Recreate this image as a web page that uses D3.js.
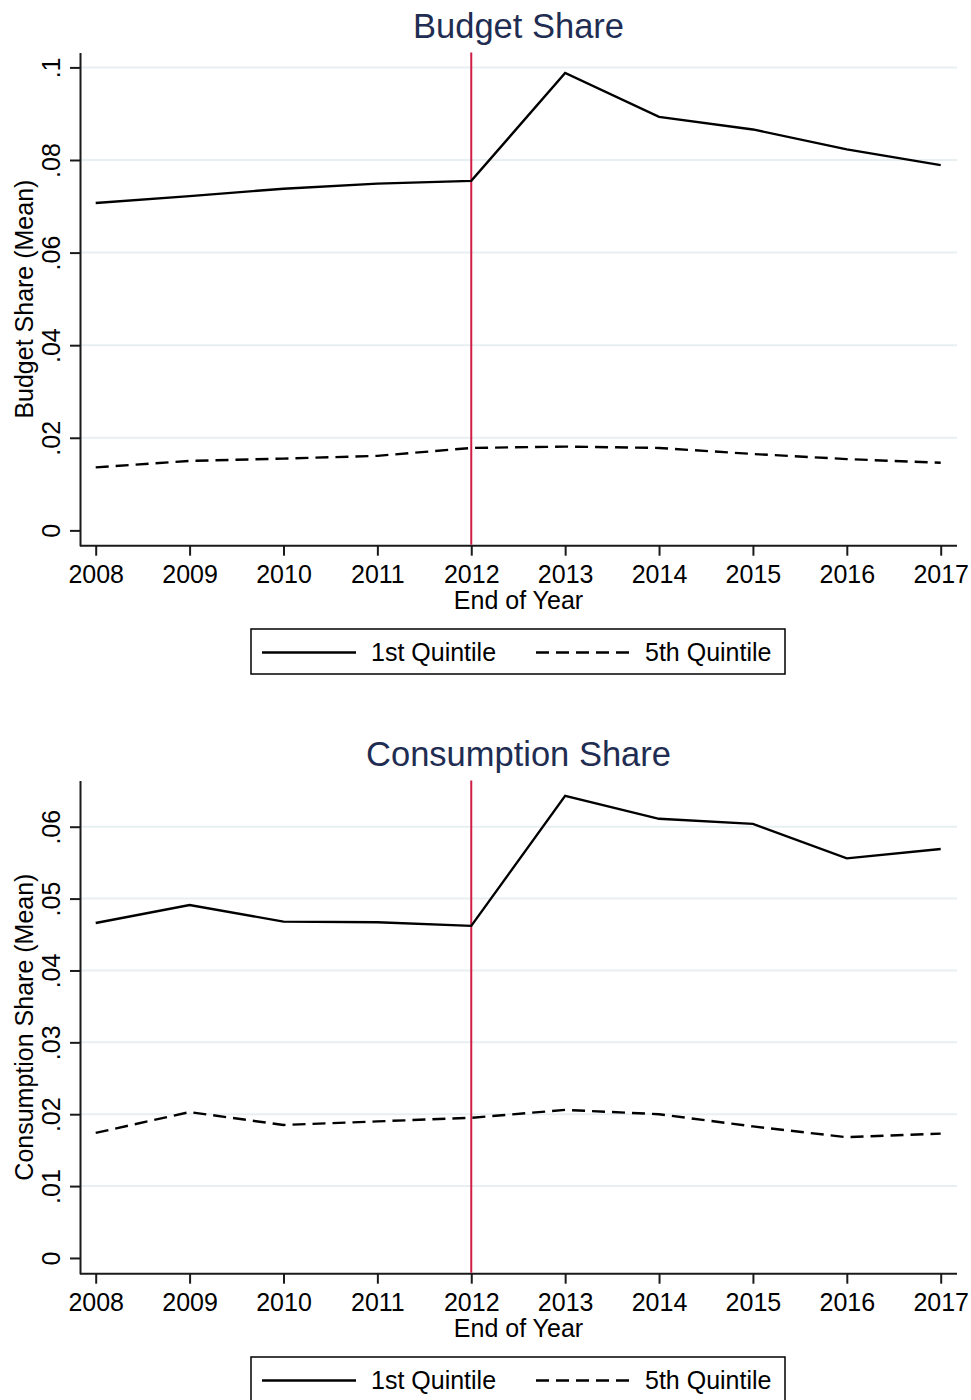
<!DOCTYPE html>
<html>
<head>
<meta charset="utf-8">
<script src="https://cdn.jsdelivr.net/npm/d3@7"></script>
<style>
  html, body { margin: 0; padding: 0; background: #fff; }
  svg { display: block; font-family: "Liberation Sans", Arial, Helvetica, sans-serif; }
</style>
</head>
<body>
<svg id="chart" width="971" height="1400"></svg>
<script>
// Years on the horizontal axis
const years = [2008, 2009, 2010, 2011, 2012, 2013, 2014, 2015, 2016, 2017];
const policyYear = 2012;

// Budget share (mean) by income quintile
const budgetQ1 = [0.0707, 0.0722, 0.0738, 0.0749, 0.0755, 0.0988, 0.0893, 0.0866, 0.0823, 0.0789];
const budgetQ5 = [0.0136, 0.0150, 0.0155, 0.0161, 0.0178, 0.0181, 0.0178, 0.0165, 0.0154, 0.0146];

// Consumption share (mean) by income quintile
const consQ1 = [0.0466, 0.0491, 0.0468, 0.0467, 0.0462, 0.0643, 0.0611, 0.0604, 0.0556, 0.0569];
const consQ5 = [0.0174, 0.0203, 0.0185, 0.0190, 0.0195, 0.0206, 0.0200, 0.0183, 0.0168, 0.0173];

// Axis ticks and their labels
const budgetTicks = [0, 0.02, 0.04, 0.06, 0.08, 0.1];
const budgetTickLabels = ["0", ".02", ".04", ".06", ".08", ".1"];
const consTicks = [0, 0.01, 0.02, 0.03, 0.04, 0.05, 0.06];
const consTickLabels = ["0", ".01", ".02", ".03", ".04", ".05", ".06"];

const seriesNames = ["1st Quintile", "5th Quintile"];

const svg = d3.select("#chart");
const FONT = 25;
const AX = "#1a1a1a";
const GRID = "#e8eff2";
const RED = "#cf1d45";
const TITLE = "#1f2d52";
const DASH = "13,7";
const LW = 2.4;

// Shared horizontal layout
const plotLeft = 80, plotRight = 957;
const x = d3.scaleLinear().domain([2008, 2017]).range([95.7, 940.7]);

function drawPanel(offsetY, cfg) {
  const g = svg.append("g").attr("transform", `translate(0,${offsetY})`);
  const plotTop = 52.5, plotBottom = 545.7;
  const y = d3.scaleLinear().domain(cfg.domain).range([plotBottom, plotTop]);

  // title
  g.append("text")
    .attr("x", (plotLeft + plotRight) / 2).attr("y", 38)
    .attr("text-anchor", "middle")
    .attr("font-size", 34.5).attr("fill", TITLE)
    .text(cfg.title);

  // horizontal grid lines (not at zero)
  g.append("g").selectAll("line")
    .data(cfg.ticks.filter(t => t !== 0))
    .join("line")
    .attr("x1", plotLeft + 1).attr("x2", plotRight)
    .attr("y1", d => y(d)).attr("y2", d => y(d))
    .attr("stroke", GRID).attr("stroke-width", 2);

  // left axis
  const yAxis = d3.axisLeft(y)
    .tickValues(cfg.ticks)
    .tickFormat((d, i) => cfg.tickLabels[i])
    .tickSize(10).tickSizeOuter(0).tickPadding(10);
  const ya = g.append("g").attr("transform", `translate(${plotLeft},0)`).call(yAxis);
  ya.select(".domain").attr("stroke", AX).attr("stroke-width", 2);
  ya.selectAll(".tick line").attr("stroke", AX).attr("stroke-width", 2);
  ya.selectAll(".tick text")
    .attr("font-size", FONT).attr("fill", "#000")
    .attr("x", null).attr("dy", null)
    .attr("text-anchor", "middle")
    .attr("transform", "translate(-20,0) rotate(-90)");

  // bottom axis
  const xAxis = d3.axisBottom(x)
    .tickValues(years)
    .tickFormat(d3.format("d"))
    .tickSize(10).tickSizeOuter(0).tickPadding(10);
  const xa = g.append("g").attr("transform", `translate(0,${plotBottom})`).call(xAxis);
  xa.select(".domain").attr("d", `M${plotLeft},0H${plotRight}`)
    .attr("stroke", AX).attr("stroke-width", 2);
  xa.selectAll(".tick line").attr("stroke", AX).attr("stroke-width", 2);
  xa.selectAll(".tick text")
    .attr("font-size", FONT).attr("fill", "#000")
    .attr("dy", null).attr("y", 37.5);

  // axis titles
  g.append("text")
    .attr("x", (plotLeft + plotRight) / 2).attr("y", 609)
    .attr("text-anchor", "middle").attr("font-size", FONT).attr("fill", "#000")
    .text("End of Year");
  g.append("text")
    .attr("transform", `translate(33,${(plotTop + plotBottom) / 2}) rotate(-90)`)
    .attr("text-anchor", "middle").attr("font-size", FONT).attr("fill", "#000")
    .text(cfg.yTitle);

  // reference line at the policy year
  g.append("line")
    .attr("x1", x(policyYear)).attr("x2", x(policyYear))
    .attr("y1", plotTop).attr("y2", plotBottom - 1)
    .attr("stroke", RED).attr("stroke-width", 2);

  // series lines
  const line = d3.line().x((d, i) => x(years[i])).y(d => y(d));
  g.append("path").datum(cfg.q1)
    .attr("d", line).attr("fill", "none")
    .attr("stroke", "#000").attr("stroke-width", LW)
    .attr("stroke-linejoin", "miter");
  g.append("path").datum(cfg.q5)
    .attr("d", line).attr("fill", "none")
    .attr("stroke", "#000").attr("stroke-width", LW)
    .attr("stroke-dasharray", DASH);

  // legend
  const lg = g.append("g");
  lg.append("rect")
    .attr("x", 251).attr("y", 629).attr("width", 534).attr("height", 45)
    .attr("fill", "#fff").attr("stroke", "#000").attr("stroke-width", 1.5);
  lg.append("line").attr("x1", 262).attr("x2", 356).attr("y1", 652.5).attr("y2", 652.5)
    .attr("stroke", "#000").attr("stroke-width", LW);
  lg.append("text").attr("x", 371).attr("y", 661)
    .attr("font-size", FONT).attr("fill", "#000").text(seriesNames[0]);
  lg.append("line").attr("x1", 536).attr("x2", 630).attr("y1", 652.5).attr("y2", 652.5)
    .attr("stroke", "#000").attr("stroke-width", LW).attr("stroke-dasharray", DASH);
  lg.append("text").attr("x", 645).attr("y", 661)
    .attr("font-size", FONT).attr("fill", "#000").text(seriesNames[1]);
}

drawPanel(0, {
  title: "Budget Share",
  yTitle: "Budget Share (Mean)",
  domain: [-0.00331, 0.10322],
  ticks: budgetTicks,
  tickLabels: budgetTickLabels,
  q1: budgetQ1,
  q5: budgetQ5
});

drawPanel(728, {
  title: "Consumption Share",
  yTitle: "Consumption Share (Mean)",
  domain: [-0.00219, 0.06643],
  ticks: consTicks,
  tickLabels: consTickLabels,
  q1: consQ1,
  q5: consQ5
});
</script>
</body>
</html>
